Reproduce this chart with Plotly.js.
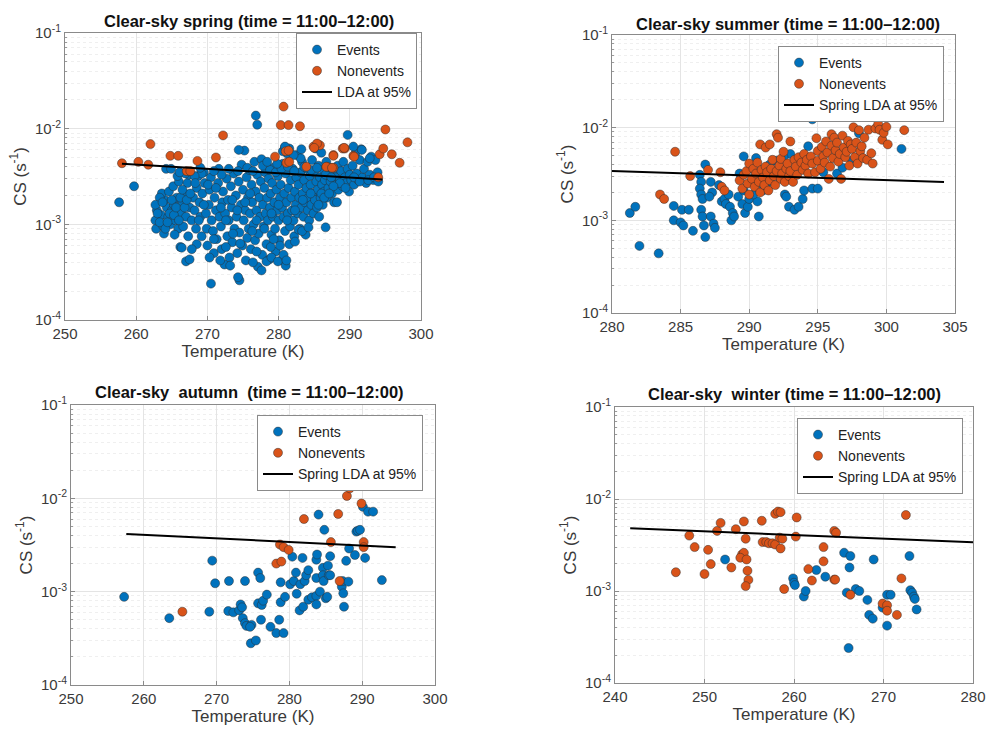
<!DOCTYPE html>
<html><head><meta charset="utf-8">
<script src="https://cdn.plot.ly/plotly-3.0.1.min.js"></script>
<style>html,body{margin:0;padding:0;background:#fff}#chart{width:987px;height:734px}</style>
</head><body><div id="chart"></div>
<script>
// ---------- data: [Temperature (K), CS (s^-1)] ----------
const springEvents = [
[257.6,0.0017],[259.7,0.0025],[286.6,0.00093],[289.7,0.0086],[276.8,0.0137],[277.0,0.011],[270.5,0.00024],[274.5,0.00026],[274.3,0.00028],
[262.8,0.0009],[263.2,0.0011],[263.5,0.00125],[263.8,0.00095],[264.0,0.0018],[264.3,0.0015],[264.5,0.0012],[264.8,0.001],[265.0,0.0014],[265.3,0.0016],
[265.5,0.0011],[265.7,0.0019],[265.9,0.0009],[263.6,0.0021],[264.6,0.0022],[265.2,0.0025],[266.0,0.0028],[265.8,0.0032],[264.2,0.0038],[263.9,0.0008],
[265.4,0.00078],[266.2,0.00058],[266.3,0.0013],[266.5,0.0017],[266.8,0.0021],[266.6,0.00095],[267.0,0.0012],[267.2,0.0027],[267.4,0.0033],[267.5,0.0015],
[267.3,0.00075],[267.0,0.00041],[267.5,0.00043],[267.8,0.0011],[268.0,0.0019],[268.2,0.0014],[268.4,0.0009],[268.5,0.0024],[268.7,0.0032],[268.9,0.0017],
[269.0,0.0012],[269.2,0.00075],[269.3,0.0021],[269.5,0.0035],[269.6,0.0027],[269.8,0.0013],[269.9,0.0009],[270.0,0.0006],[270.2,0.0016],[270.3,0.0023],
[270.5,0.0031],[270.6,0.0011],[270.8,0.00085],[270.9,0.0005],[271.0,0.0019],[271.2,0.0014],[271.3,0.0007],[271.5,0.0027],[271.6,0.0038],[271.7,0.0012],
[271.9,0.00095],[272.0,0.00055],[272.1,0.0017],[272.2,0.0022],[272.4,0.00038],[272.5,0.0013],[272.7,0.003],[272.8,0.00075],[272.9,0.0018],[273.0,0.0011],
[273.1,0.00045],[273.3,0.0025],[273.4,0.0015],[273.5,0.00065],[273.7,0.0034],[273.8,0.0009],[274.0,0.002],[274.1,0.0012],[274.2,0.0005],[274.4,0.0028],
[274.5,0.00082],[274.7,0.0016],[274.8,0.0042],[274.9,0.0006],[275.0,0.0023],[275.1,0.0011],[275.2,0.0059],[275.3,0.0014],[275.5,0.0031],[275.6,0.00072],
[275.7,0.0019],[275.8,0.0009],[275.9,0.0037],[276.0,0.0013],[276.1,0.00055],[276.2,0.0026],[276.3,0.0017],[276.5,0.001],[276.6,0.0045],[276.7,0.00068],
[276.8,0.0022],[276.9,0.0014],[277.0,0.0033],[277.1,0.00036],[277.2,0.0008],[277.3,0.0019],[277.4,0.0012],[277.5,0.0028],[277.6,0.0048],[277.7,0.00048],
[277.8,0.0016],[277.9,0.00095],[278.0,0.0024],[278.1,0.0035],[278.2,0.0013],[278.3,0.00062],[278.4,0.0019],[278.5,0.0011],[278.6,0.003],[278.7,0.00043],
[278.8,0.0015],[278.9,0.0021],[279.0,0.00078],[279.1,0.0027],[279.2,0.0012],[279.3,0.0039],[279.4,0.0017],[279.5,0.0009],[279.6,0.00052],[279.7,0.0023],
[279.8,0.0014],[279.9,0.0032],[280.0,0.0011],[280.1,0.00068],[280.2,0.0019],[280.3,0.0026],[280.4,0.00042],[280.5,0.0015],[280.6,0.0043],[280.7,0.0012],
[280.8,0.0021],[280.9,0.00085],[281.0,0.0034],[281.0,0.00037],[281.1,0.0017],[281.2,0.0055],[281.3,0.0013],[281.4,0.0024],[281.5,0.0062],[281.6,0.00095],
[281.7,0.0029],[281.8,0.0019],[281.9,0.0014],[282.0,0.0038],[282.1,0.0011],[282.2,0.00075],[282.3,0.0022],[282.4,0.0016],[282.5,0.0031],[282.6,0.0053],
[282.7,0.0013],[282.8,0.0026],[282.9,0.0019],[283.0,0.0009],[283.1,0.0035],[283.2,0.0015],[283.3,0.0045],[283.4,0.0021],[283.5,0.0012],[283.6,0.0029],
[283.7,0.0017],[283.8,0.00078],[283.9,0.0024],[284.0,0.0038],[284.1,0.0014],[284.2,0.0019],[284.3,0.0011],[284.4,0.0032],[284.5,0.0026],[284.6,0.0016],
[284.7,0.0047],[284.8,0.0021],[284.9,0.0013],[285.0,0.0035],[285.1,0.0018],[285.2,0.0062],[285.3,0.0028],[285.4,0.0015],[285.5,0.0023],[285.6,0.0041],
[285.7,0.0012],[285.8,0.0031],[285.9,0.0019],[286.0,0.0056],[286.1,0.0026],[286.2,0.0016],[286.3,0.0037],[286.4,0.0022],[286.5,0.0029],[286.7,0.0045],
[286.8,0.0019],[286.9,0.0033],[287.0,0.0024],[287.2,0.0039],[287.3,0.0028],[287.5,0.0021],[287.6,0.0035],[287.8,0.0017],[288.0,0.0031],[288.1,0.0026],
[288.3,0.0041],[288.4,0.0023],[288.6,0.0029],[288.8,0.0036],[289.0,0.0025],[289.1,0.0045],[289.3,0.0031],[289.5,0.0027],[289.7,0.0038],[289.9,0.0022],
[290.0,0.0033],[290.2,0.0029],[290.4,0.0041],[290.6,0.0026],[290.8,0.0055],[291.0,0.0034],[291.2,0.0029],[291.4,0.0047],[291.6,0.0061],[291.8,0.0031],
[292.0,0.0038],[292.3,0.0027],[292.5,0.0045],[292.8,0.0033],[293.0,0.0051],[293.3,0.0029],[293.6,0.0047],[293.9,0.0035],
[270.3,0.00045],[271.8,0.00042],[273.2,0.00037],[275.4,0.00042],[276.4,0.0004],[277.6,0.00033],[278.3,0.00041],[279.0,0.00045],[279.9,0.00041],[280.7,0.00048],
[281.1,0.00042],[272.6,0.00058],[274.6,0.00063],[276.9,0.00052],[278.9,0.00058],[280.2,0.0006],[281.5,0.00062],[282.3,0.00066],[270.9,0.0007],[273.6,0.0008],
[276.3,0.00085],[279.3,0.0007],[282.8,0.00088],[283.3,0.00085],[284.2,0.00093],[268.5,0.00062],[267.8,0.00055],[266.4,0.00057],
[275.6,0.0039],[276.4,0.0036],[277.8,0.0041],[278.8,0.0037],[279.6,0.0035],[280.4,0.0038],[281.3,0.004],[282.2,0.0036],[283.6,0.004],[284.6,0.0037],
[285.4,0.0039],[286.6,0.0033],[287.4,0.0031],[288.6,0.0027],[289.4,0.0024],[290.6,0.0031],[291.4,0.0028],[292.6,0.0029],[293.4,0.0031],[294.0,0.0028],
[288.2,0.0017],[287.7,0.0025],[286.0,0.0021],[283.1,0.0049],[280.6,0.0058],[280.9,0.0064],[279.8,0.0043],[278.4,0.0045],[274.3,0.0036],[273.0,0.0038],
[272.0,0.0033],[270.9,0.0036],[269.2,0.0034],[268.2,0.0032],[266.9,0.0034],[266.1,0.0035],[264.9,0.0038],[263.3,0.0019],[262.9,0.0014],[262.7,0.0011],
[262.7,0.0016],[263.0,0.0013],[263.3,0.00105],[263.7,0.0017],[264.1,0.0009],[264.4,0.00105],[264.7,0.0013],[265.0,0.0018],[265.3,0.00125],[265.6,0.0015],
[266.0,0.0011],[266.2,0.0019],[266.5,0.0023],[266.8,0.0015],[267.1,0.0018],[267.6,0.0021],[268.3,0.0027],[268.8,0.0011],[269.5,0.0016],[270.1,0.0026],
[271.2,0.0024],[271.9,0.0015],[272.6,0.0011],[273.5,0.0018],[274.2,0.0014],[275.3,0.0017],[276.0,0.0021],[276.9,0.0011],[278.0,0.0009],[279.0,0.0013],
[280.0,0.0016],[281.2,0.0011],[282.3,0.0014],[283.4,0.0018],[284.5,0.0021],[285.6,0.0016],[286.4,0.0019],[287.1,0.0021],
[274.4,0.006],[282.1,0.0053],[283.2,0.0061],[290.5,0.0065],[291.7,0.006],[292.8,0.0049],[269.0,0.0039],[280.9,0.0065]
];
const springNonevents = [
[258.0,0.00435],[260.3,0.0045],[261.7,0.0042],[262.0,0.0069],[264.8,0.0052],[265.9,0.0052],[267.1,0.0036],[267.6,0.0036],[268.6,0.0046],[271.2,0.005],
[272.2,0.0085],[279.5,0.0051],[280.7,0.017],[280.3,0.0109],[281.4,0.0109],[283.0,0.0106],[281.0,0.0058],[281.1,0.0044],[284.9,0.0065],[285.8,0.0067],
[286.2,0.0184],[287.3,0.0203],[287.7,0.0053],[289.0,0.0062],[289.3,0.0062],[286.8,0.004],[287.7,0.0039],[290.5,0.0052],[294.0,0.0031],[294.2,0.0054],
[294.7,0.0062],[295.0,0.0098],[295.9,0.0054],[297.0,0.0044],[298.1,0.0072],[283.9,0.0040],[286.7,0.0040],[287.5,0.0039],[281.4,0.0059],[281.5,0.0045],
[285.4,0.007],[285.0,0.0063],[289.2,0.0063],[290.6,0.0051],[287.7,0.0052]
];
const springLda = [[258.0,0.0043],[294.6,0.00295]];

const summerEvents = [
[281.3,0.0012],[281.7,0.0014],[282.0,0.00053],[283.4,0.00044],[284.5,0.00143],[284.5,0.001],[285.0,0.00095],[285.1,0.0013],[285.2,0.00088],[285.6,0.0013],
[285.9,0.00077],[286.4,0.0031],[286.5,0.0026],[286.4,0.0022],[286.5,0.0019],[286.6,0.0017],[286.5,0.0013],[286.6,0.0011],[286.7,0.00088],[286.8,0.00066],
[286.8,0.004],[287.2,0.0026],[287.3,0.002],[287.1,0.0018],[287.2,0.0011],[287.4,0.00092],[287.5,0.00083],[287.8,0.0024],[288.0,0.0016],[288.2,0.0017],
[288.3,0.0015],[288.5,0.0019],[288.6,0.0014],[288.8,0.0012],[288.7,0.001],[288.9,0.0011],[289.2,0.0018],[289.3,0.0032],[289.5,0.0015],[289.6,0.0049],
[289.6,0.0021],[289.7,0.0012],[289.9,0.0014],[290.0,0.0017],[290.2,0.0036],[290.5,0.0047],[290.5,0.0025],[290.6,0.0016],[290.7,0.0011],[291.0,0.0021],
[291.2,0.0023],[291.4,0.0026],[291.8,0.0032],[292.0,0.0044],[292.2,0.0029],[292.6,0.0019],[292.7,0.0018],[292.9,0.0014],[293.3,0.0013],[293.6,0.0014],
[293.9,0.0017],[294.0,0.0021],[294.3,0.0063],[294.6,0.0123],[294.6,0.0022],[295.0,0.0022],[295.4,0.0033],[296.4,0.0032],[296.8,0.0037],[297.5,0.0044],
[298.0,0.0087],[301.1,0.0059],[293.0,0.0052],[292.5,0.0048],[291.5,0.004],[290.3,0.0019]
];
const summerNonevents = [
[283.5,0.0019],[283.8,0.0017],[284.6,0.0055],[285.7,0.003],[287.9,0.0033],[288.0,0.0023],[288.2,0.0021],[287.0,0.0035],
[289.3,0.0027],[289.5,0.0022],[289.6,0.0031],[289.8,0.0034],[289.9,0.0025],[290.0,0.0019],[290.0,0.0041],[290.2,0.0028],[290.3,0.0036],[290.4,0.0023],
[290.5,0.0032],[290.6,0.0042],[290.7,0.0026],[290.8,0.002],[290.8,0.0066],[290.9,0.0035],[291.0,0.0029],[291.1,0.0024],[291.2,0.0061],[291.2,0.0038],
[291.3,0.0033],[291.4,0.0021],[291.5,0.0027],[291.5,0.0066],[291.6,0.0036],[291.7,0.0045],[291.8,0.003],[291.9,0.0024],[292.0,0.0085],[292.0,0.0034],
[292.1,0.0078],[292.2,0.0039],[292.3,0.0028],[292.3,0.0046],[292.4,0.0032],[292.5,0.0055],[292.6,0.0026],[292.7,0.0036],[292.8,0.0041],[292.9,0.003],
[293.0,0.0071],[293.0,0.0034],[293.2,0.0026],[293.3,0.0045],[293.4,0.0038],[293.5,0.0031],[293.6,0.0048],[293.8,0.0042],[293.9,0.0035],[294.0,0.0052],
[294.1,0.0039],[294.2,0.0045],[294.3,0.0032],[294.5,0.0049],[294.6,0.0041],[294.8,0.0033],[294.9,0.0077],[295.0,0.0056],[295.0,0.0044],[295.2,0.0036],
[295.3,0.0062],[295.4,0.0049],[295.5,0.0042],[295.6,0.0071],[295.7,0.0054],[295.8,0.0028],[295.9,0.0038],[296.0,0.0085],[296.0,0.0064],[296.1,0.0047],
[296.2,0.0078],[296.3,0.0057],[296.4,0.0069],[296.5,0.0043],[296.6,0.0052],[296.7,0.0028],[296.8,0.0082],[296.9,0.0061],[297.0,0.0048],[297.1,0.0055],
[297.2,0.0072],[297.3,0.0039],[297.4,0.0066],[297.5,0.0059],[297.6,0.0101],[297.7,0.0048],[297.8,0.0069],[297.9,0.0041],[298.0,0.0094],[298.1,0.0056],
[298.2,0.0063],[298.3,0.0047],[298.4,0.0078],[298.6,0.0045],[298.7,0.0095],[298.9,0.0053],[299.0,0.0041],[299.2,0.0098],[299.4,0.0109],[299.5,0.0095],
[299.7,0.0074],[299.8,0.0088],[300.0,0.0102],[300.1,0.0066],[300.3,0.0149],[301.3,0.0094]
];
const summerLda = [[280.0,0.0034],[304.2,0.0026]];

const autumnEvents = [
[257.3,0.00088],[263.5,0.00052],[269.0,0.00061],[269.4,0.00215],[269.8,0.00123],[271.7,0.0013],[271.6,0.00062],[272.3,0.0006],[273.1,0.00063],[273.3,0.00073],
[273.5,0.00068],[273.9,0.0013],[273.6,0.00052],[273.9,0.00046],[274.1,0.00043],[274.7,0.00028],[275.4,0.0003],[274.8,0.00044],[274.6,0.00042],[275.7,0.0016],
[276.0,0.0014],[275.7,0.00075],[276.2,0.00072],[276.4,0.0008],[276.9,0.00093],[276.1,0.0005],[277.4,0.00042],[278.2,0.00036],[279.2,0.00036],[278.6,0.0005],
[278.8,0.00077],[278.8,0.00126],[279.4,0.00088],[280.4,0.00237],[280.1,0.0012],[280.6,0.0013],[280.9,0.0016],[281.0,0.00095],[281.5,0.0012],[281.4,0.00063],
[281.8,0.0023],[281.9,0.00069],[282.1,0.0013],[282.3,0.0015],[282.6,0.0017],[282.6,0.00082],[283.1,0.00087],[283.7,0.0009],[283.7,0.0014],[283.7,0.0022],
[283.8,0.0025],[284.0,0.0067],[284.2,0.001],[284.6,0.0018],[284.6,0.0015],[284.7,0.0013],[285.0,0.00085],[285.2,0.00088],[284.8,0.0046],[283.7,0.00073],
[285.3,0.0019],[285.4,0.0015],[285.6,0.0015],[285.6,0.0024],[287.2,0.00113],[287.4,0.00096],[287.5,0.00069],[287.3,0.0013],[287.8,0.00214],[288.1,0.00128],
[288.2,0.0029],[289.0,0.00247],[289.2,0.0044],[289.4,0.0045],[289.7,0.0046],[290.1,0.0081],[290.4,0.0023],[290.8,0.0072],[291.5,0.0072],[292.7,0.00133]
];
const autumnNonevents = [
[265.3,0.00061],[278.7,0.0032],[279.2,0.003],[279.9,0.0028],[278.2,0.002],[278.9,0.0021],[282.0,0.006],[286.7,0.0068],[285.7,0.0034],[286.9,0.0013],
[287.9,0.0106],[288.3,0.0128],[289.9,0.0088],[290.2,0.0034],[290.2,0.003]
];
const autumnLda = [[257.6,0.00415],[294.6,0.003]];

const winterEvents = [
[252.3,0.0022],[259.9,0.00137],[260.0,0.00123],[260.1,0.00116],[261.1,0.00087],[261.3,0.001],[262.5,0.00169],[263.5,0.00143],[265.6,0.0026],[266.3,0.0024],
[266.2,0.0018],[265.9,0.00096],[266.9,0.00105],[267.3,0.001],[268.2,0.0008],[268.4,0.00055],[268.8,0.0005],[268.9,0.0022],[266.1,0.00024],[269.9,0.00066],
[270.4,0.00091],[270.8,0.00091],[270.4,0.00042],[272.9,0.0024],[273.0,0.00102],[273.2,0.00096],[273.4,0.00087],[273.5,0.00082],[273.7,0.00063]
];
const winterNonevents = [
[246.8,0.0016],[248.3,0.004],[248.9,0.003],[250.0,0.00153],[250.4,0.0028],[250.7,0.00196],[251.4,0.0045],[251.8,0.0055],[253.0,0.0018],[253.5,0.0047],
[254.2,0.0025],[254.4,0.0026],[254.0,0.0023],[254.4,0.0057],[254.6,0.0037],[254.7,0.0022],[254.8,0.00166],[254.9,0.00132],[254.6,0.00113],[256.4,0.0058],
[256.5,0.0034],[256.9,0.0034],[257.2,0.0033],[257.6,0.0033],[257.9,0.0032],[257.9,0.0069],[258.2,0.0073],[258.5,0.0072],[258.4,0.0038],[258.5,0.0029],
[258.7,0.0037],[258.9,0.00105],[260.3,0.0063],[260.2,0.0039],[261.6,0.00173],[262.0,0.0013],[263.3,0.003],[263.3,0.0021],[264.5,0.00133],[264.6,0.00133],
[264.5,0.0045],[264.7,0.0043],[266.3,0.00091],[269.9,0.00073],[270.4,0.0007],[270.4,0.00061],[271.5,0.00055],[272.0,0.00137],[272.5,0.0067]
];
const winterLda = [[241.7,0.0048],[280.0,0.00338]];

// ---------- styling ----------
const BLUE = '#0072BD', ORANGE = '#D95319';
const FONT = 'Liberation Sans, Arial, Helvetica, sans-serif';
const col = (a, i) => a.map(p => p[i]);
const mk = c => ({color: c, size: 9, line: {color: 'rgba(45,45,45,0.8)', width: 0.6}});

const panels = [
  {ev: springEvents, ne: springNonevents, lda: springLda, ldaName: 'LDA at 95%', x: 'x', y: 'y', leg: 'legend'},
  {ev: summerEvents, ne: summerNonevents, lda: summerLda, ldaName: 'Spring LDA at 95%', x: 'x2', y: 'y2', leg: 'legend2'},
  {ev: autumnEvents, ne: autumnNonevents, lda: autumnLda, ldaName: 'Spring LDA at 95%', x: 'x3', y: 'y3', leg: 'legend3'},
  {ev: winterEvents, ne: winterNonevents, lda: winterLda, ldaName: 'Spring LDA at 95%', x: 'x4', y: 'y4', leg: 'legend4'}
];

const traces = [];
panels.forEach(p => {
  traces.push({type: 'scatter', mode: 'markers', name: 'Events', x: col(p.ev, 0), y: col(p.ev, 1),
    xaxis: p.x, yaxis: p.y, legend: p.leg, marker: mk(BLUE)});
  traces.push({type: 'scatter', mode: 'markers', name: 'Nonevents', x: col(p.ne, 0), y: col(p.ne, 1),
    xaxis: p.x, yaxis: p.y, legend: p.leg, marker: mk(ORANGE)});
  traces.push({type: 'scatter', mode: 'lines', name: p.ldaName, x: col(p.lda, 0), y: col(p.lda, 1),
    xaxis: p.x, yaxis: p.y, legend: p.leg, line: {color: '#000', width: 2}});
});

const minorVals = [];
[-4, -3, -2].forEach(k => { for (let m = 2; m <= 9; m++) minorVals.push(m * Math.pow(10, k)); });

function xAxis(domain, range, dtick, anchor) {
  return {domain: domain, range: range, dtick: dtick, tick0: range[0], anchor: anchor,
    showline: true, linecolor: '#8a8a8a', linewidth: 1, mirror: true,
    ticks: 'inside', ticklen: 4, tickcolor: '#8a8a8a',
    showgrid: true, gridcolor: '#e4e4e4', zeroline: false,
    tickfont: {size: 15, color: '#3a3a3a'},
    title: {text: 'Temperature (K)', font: {size: 17, color: '#3a3a3a'}, standoff: 2}};
}
function yAxis(domain, anchor) {
  return {domain: domain, type: 'log', range: [-4, -1], anchor: anchor,
    tickmode: 'array', tickvals: [1e-4, 1e-3, 1e-2, 1e-1],
    ticktext: ['10<sup>-4</sup>', '10<sup>-3</sup>', '10<sup>-2</sup>', '10<sup>-1</sup>'],
    showline: true, linecolor: '#8a8a8a', linewidth: 1, mirror: true,
    ticks: 'inside', ticklen: 4, tickcolor: '#8a8a8a',
    showgrid: true, gridcolor: '#e4e4e4', zeroline: false,
    minor: {tickmode: 'array', tickvals: minorVals, showgrid: true, gridcolor: '#efefef', griddash: 'dot',
            ticks: 'inside', ticklen: 2, tickcolor: '#9a9a9a'},
    tickfont: {size: 15, color: '#3a3a3a'},
    title: {text: 'CS (s<sup>-1</sup>)', font: {size: 17, color: '#3a3a3a'}, standoff: 4}};
}
function leg(x, y) {
  return {x: x, y: y, xanchor: 'right', yanchor: 'top', xref: 'paper', yref: 'paper',
    bgcolor: '#fff', bordercolor: '#8a8a8a', borderwidth: 1,
    font: {size: 14, color: '#222', family: FONT}, tracegroupgap: 0, itemwidth: 30};
}
function ttl(text, x, y) {
  return {text: '<b>' + text + '</b>', x: x, y: y, xref: 'paper', yref: 'paper',
    xanchor: 'center', yanchor: 'middle', showarrow: false, font: {size: 16.5, color: '#111', family: FONT}};
}

const W = 987, H = 734;
const layout = {
  width: W, height: H, margin: {l: 0, r: 0, t: 0, b: 0},
  paper_bgcolor: '#fff', plot_bgcolor: '#fff',
  font: {family: FONT},
  xaxis:  xAxis([65 / W, 421 / W], [250, 300], 10, 'y'),
  yaxis:  yAxis([1 - 320 / H, 1 - 33 / H], 'x'),
  xaxis2: xAxis([612 / W, 955 / W], [280, 305], 5, 'y2'),
  yaxis2: yAxis([1 - 313 / H, 1 - 35 / H], 'x2'),
  xaxis3: xAxis([71 / W, 435 / W], [250, 300], 10, 'y3'),
  yaxis3: yAxis([1 - 685 / H, 1 - 405 / H], 'x3'),
  xaxis4: xAxis([615 / W, 973 / W], [240, 280], 10, 'y4'),
  yaxis4: yAxis([1 - 683 / H, 1 - 407 / H], 'x4'),
  legend:  leg(417 / W, 1 - 33 / H),
  legend2: leg(944 / W, 1 - 46 / H),
  legend3: leg(423 / W, 1 - 415 / H),
  legend4: leg(963 / W, 1 - 418 / H),
  annotations: [
    ttl('Clear-sky spring (time = 11:00–12:00)', 249 / W, 1 - 21 / H),
    ttl('Clear-sky summer (time = 11:00–12:00)', 788 / W, 1 - 24 / H),
    ttl('Clear-sky  autumn  (time = 11:00–12:00)', 249 / W, 1 - 392 / H),
    ttl('Clear-sky  winter (time = 11:00–12:00)', 794 / W, 1 - 394 / H)
  ],
  showlegend: true
};

Plotly.newPlot('chart', traces, layout, {displayModeBar: false, staticPlot: true});
</script>
</body></html>
